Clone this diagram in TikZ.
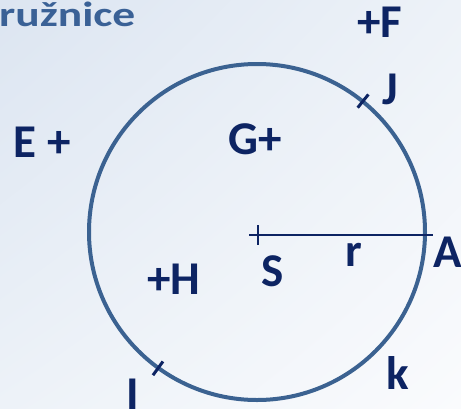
\documentclass[tikz,border=0pt]{standalone}
\usepackage{fontspec}
\setmainfont{Carlito}
\usetikzlibrary{shadings}
\definecolor{tmava}{HTML}{0D2463}
\definecolor{ocel}{HTML}{3B6291}
\definecolor{nadpisc}{HTML}{3A6196}
\definecolor{pozadi1}{HTML}{DCE5F1}
\definecolor{pozadi2}{HTML}{EDF2F8}
\definecolor{pozadi3}{HTML}{FAFBFD}

\begin{document}
\begin{tikzpicture}[x=1pt,y=-1pt,
  bod/.style={text=tmava,font=\bfseries\fontsize{47}{47}\selectfont,inner sep=0pt},
  kruh/.style={draw=ocel,line width=4pt},
  carka/.style={draw=tmava,line width=3pt}]
 \useasboundingbox (0,0) rectangle (461,408);
 \shade[upper left=pozadi1,upper right=pozadi2,lower left=pozadi2,lower right=pozadi3]
   (0,0) rectangle (461,408);
 \node[anchor=base west,inner sep=0pt,text=nadpisc,
   font=\bfseries\fontsize{35}{35}\selectfont] (nadpis) at (-1,26)
   {\scalebox{1.3}[1]{ružnice}};
 % kruznice k se stredem S
 \coordinate (stred) at (257,232);
 \draw[kruh] (stred) circle (168pt);
 \begin{scope}[shift={(stred)}]
  \foreach \a in {-51,126}{ \draw[carka] (\a:160) -- (\a:177); }
 \end{scope}
 % polomer r
 \coordinate (sbod) at (258,235);
 \coordinate (abod) at (433,235);
 \draw[tmava,line width=2.6pt] (sbod) -- (abod);
 \draw[tmava,line width=2.6pt] (sbod) ++(-9,0) -- ++(18,0) (sbod) ++(0,-10) -- ++(0,20);
 % body
 \node[bod] (F) at (380,22) {+F};
 \node[bod] (J) at (390,89) {J};
 \node[bod] (E) at (42,142) {E +};
 \node[bod] (G) at (255,139) {G+};
 \node[bod] (H) at (174,279) {+H};
 \node[bod] (S) at (273,271) {S};
 \node[bod] (r) at (354,255) {r};
 \node[bod] (A) at (448,252) {A};
 \node[bod] (k) at (398,373) {k};
 \node[bod,anchor=north] (I) at (133,379) {I};
\end{tikzpicture}
\end{document}
